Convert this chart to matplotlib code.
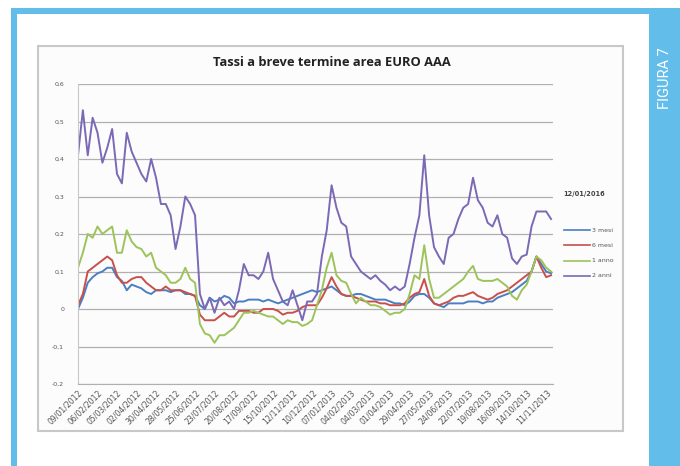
import numpy as np
import matplotlib.pyplot as plt
from matplotlib.patches import Rectangle

# tassi a breve termine, area euro AAA (campione settimanale, giorni lavorativi)
date_labels = ["09/01/2012", "06/02/2012", "05/03/2012", "02/04/2012", "30/04/2012",
               "28/05/2012", "25/06/2012", "23/07/2012", "20/08/2012", "17/09/2012",
               "15/10/2012", "12/11/2012", "10/12/2012", "07/01/2013", "04/02/2013",
               "04/03/2013", "01/04/2013", "29/04/2013", "27/05/2013", "24/06/2013",
               "22/07/2013", "19/08/2013", "16/09/2013", "14/10/2013", "11/11/2013"]
series_names = ["3 mesi", "6 mesi", "1 anno", "2 anni"]

mesi3 = [0.0, 0.03, 0.07, 0.085, 0.095, 0.10, 0.11, 0.11, 0.085, 0.075,
         0.05, 0.065, 0.06, 0.055, 0.045, 0.04, 0.05, 0.05, 0.05, 0.045,
         0.05, 0.05, 0.04, 0.04, 0.035, 0.01, 0.0, 0.03, 0.02, 0.025,
         0.035, 0.03, 0.015, 0.02, 0.02, 0.025, 0.025, 0.025, 0.02, 0.025,
         0.02, 0.015, 0.02, 0.025, 0.03, 0.035, 0.04, 0.045, 0.05, 0.045,
         0.05, 0.055, 0.06, 0.05, 0.04, 0.035, 0.035, 0.04, 0.04, 0.035,
         0.03, 0.025, 0.025, 0.025, 0.02, 0.015, 0.015, 0.01, 0.02, 0.035,
         0.04, 0.04, 0.03, 0.015, 0.01, 0.005, 0.015, 0.015, 0.015, 0.015,
         0.02, 0.02, 0.02, 0.015, 0.02, 0.02, 0.03, 0.035, 0.04, 0.045,
         0.055, 0.065, 0.075, 0.10, 0.14, 0.12, 0.10, 0.095]

mesi6 = [0.01, 0.04, 0.10, 0.11, 0.12, 0.13, 0.14, 0.13, 0.09, 0.07,
         0.07, 0.08, 0.085, 0.085, 0.07, 0.06, 0.05, 0.05, 0.06, 0.05,
         0.05, 0.05, 0.045, 0.04, 0.035, -0.015, -0.03, -0.03, -0.03, -0.02,
         -0.01, -0.02, -0.02, -0.005, -0.005, -0.005, -0.01, -0.01, 0.0, 0.0,
         0.0, -0.005, -0.015, -0.01, -0.01, -0.005, 0.005, 0.01, 0.01, 0.01,
         0.03, 0.055, 0.085, 0.06, 0.04, 0.035, 0.035, 0.03, 0.025, 0.02,
         0.02, 0.02, 0.015, 0.015, 0.01, 0.01, 0.01, 0.015, 0.03, 0.04,
         0.045, 0.08, 0.035, 0.015, 0.01, 0.015, 0.02, 0.03, 0.035, 0.035,
         0.04, 0.045, 0.035, 0.03, 0.025, 0.03, 0.04, 0.045, 0.05, 0.06,
         0.07, 0.08, 0.09, 0.10, 0.14, 0.11, 0.085, 0.09]

anno1 = [0.11, 0.15, 0.20, 0.19, 0.22, 0.20, 0.21, 0.22, 0.15, 0.15,
         0.21, 0.18, 0.165, 0.16, 0.14, 0.15, 0.11, 0.10, 0.09, 0.07,
         0.07, 0.08, 0.11, 0.08, 0.07, -0.04, -0.065, -0.07, -0.09, -0.07,
         -0.07, -0.06, -0.05, -0.03, -0.01, -0.01, -0.005, -0.01, -0.015, -0.02,
         -0.02, -0.03, -0.04, -0.03, -0.035, -0.035, -0.045, -0.04, -0.03, 0.01,
         0.05, 0.11, 0.15, 0.09, 0.075, 0.07, 0.04, 0.015, 0.03, 0.02,
         0.01, 0.01, 0.005, -0.005, -0.015, -0.01, -0.01, 0.0, 0.04, 0.09,
         0.08, 0.17, 0.08, 0.03, 0.03, 0.04, 0.05, 0.06, 0.07, 0.08,
         0.10, 0.115, 0.08, 0.075, 0.075, 0.075, 0.08, 0.07, 0.06, 0.035,
         0.025, 0.05, 0.065, 0.10, 0.14, 0.13, 0.11, 0.10]

anni2 = [0.41, 0.53, 0.41, 0.51, 0.47, 0.39, 0.43, 0.48, 0.36, 0.335,
         0.47, 0.42, 0.39, 0.36, 0.34, 0.40, 0.35, 0.28, 0.28, 0.25,
         0.16, 0.22, 0.30, 0.28, 0.25, 0.04, 0.0, 0.03, -0.01, 0.03,
         0.01, 0.02, 0.0, 0.05, 0.12, 0.09, 0.09, 0.08, 0.10, 0.15,
         0.08, 0.05, 0.02, 0.01, 0.05, 0.01, -0.03, 0.02, 0.02, 0.04,
         0.14, 0.21, 0.33, 0.27, 0.23, 0.22, 0.14, 0.12, 0.10, 0.09,
         0.08, 0.09, 0.075, 0.065, 0.05, 0.06, 0.05, 0.06, 0.12, 0.19,
         0.25, 0.41, 0.25, 0.165, 0.14, 0.12, 0.19, 0.20, 0.24, 0.27,
         0.28, 0.35, 0.29, 0.27, 0.23, 0.22, 0.25, 0.20, 0.19, 0.135,
         0.12, 0.14, 0.145, 0.22, 0.26, 0.26, 0.26, 0.24]

colori = ["#4A7FC4", "#C8504A", "#9DC35A", "#7B69B6"]
ytick_vals = [-0.2, -0.1, 0.0, 0.1, 0.2, 0.3, 0.4, 0.5, 0.6]

W, H = 680, 466
fig = plt.figure(figsize=(W / 100, H / 100), dpi=100)
fig.patch.set_facecolor("white")

# cornice della pagina e banda laterale
bg = fig.add_axes([0, 0, 1, 1])
bg.set_xlim(0, W)
bg.set_ylim(H, 0)
bg.axis("off")
azzurro = "#62BDEB"
bg.add_patch(Rectangle((11, 8), 6, H - 8, color=azzurro, lw=0))
bg.add_patch(Rectangle((11, 8), 640, 6, color=azzurro, lw=0))
bg.add_patch(Rectangle((649, 8), W - 649, H - 8, color=azzurro, lw=0))
bg.text(665, 78, "FIGURA 7", rotation=90, color="white", fontsize=10.5,
        family="Roboto", ha="center", va="center")
bg.add_patch(Rectangle((38, 46), 585, 385, facecolor="#fcfcfc",
                       edgecolor="#c8c8c8", lw=1.5))

bg.text(332, 63, "Tassi a breve termine area EURO AAA", fontsize=9.3,
        fontweight="bold", family="Open Sans", ha="center", va="center",
        color="#222222")

# grafico
ax = fig.add_axes([78 / W, 1 - 384 / H, 475 / W, 300 / H])
ax.set_facecolor("none")
x = np.arange(len(anni2)) * 5
for serie, nome, col in zip([mesi3, mesi6, anno1, anni2], series_names, colori):
    ax.plot(x, serie, color=col, lw=1.4, label=nome)

ax.set_xlim(0, 487)
ax.set_ylim(-0.2, 0.6)
ax.set_yticks(ytick_vals)
ax.set_yticklabels([("%g" % v).replace(".", ",") for v in ytick_vals],
                   fontsize=4.5, color="#555555")
ax.set_xticks(np.arange(len(date_labels)) * 20)
ax.set_xticklabels(date_labels, rotation=45, ha="right", rotation_mode="anchor",
                   fontsize=5.6, color="#555555")
ax.tick_params(axis="y", length=0, pad=10)
ax.tick_params(axis="x", length=0, pad=3)
ax.grid(axis="y", color="#b0b0b0", lw=0.9)
ax.set_axisbelow(True)
for s in ["top", "right"]:
    ax.spines[s].set_visible(False)
ax.spines["left"].set_color("#c8c8c8")
ax.spines["bottom"].set_color("#b0b0b0")

# legenda
bg.text(563, 194, "12/01/2016", fontsize=4.8, fontweight="bold",
        color="#444444", va="center")
for i, (nome, col) in enumerate(zip(series_names, colori)):
    yy = 230 + i * 15.3
    bg.plot([564, 590], [yy, yy], color=col, lw=1.2)
    bg.text(592, yy, nome, fontsize=4.5, color="#555555", va="center")

fig.savefig("out.png", dpi=100)
